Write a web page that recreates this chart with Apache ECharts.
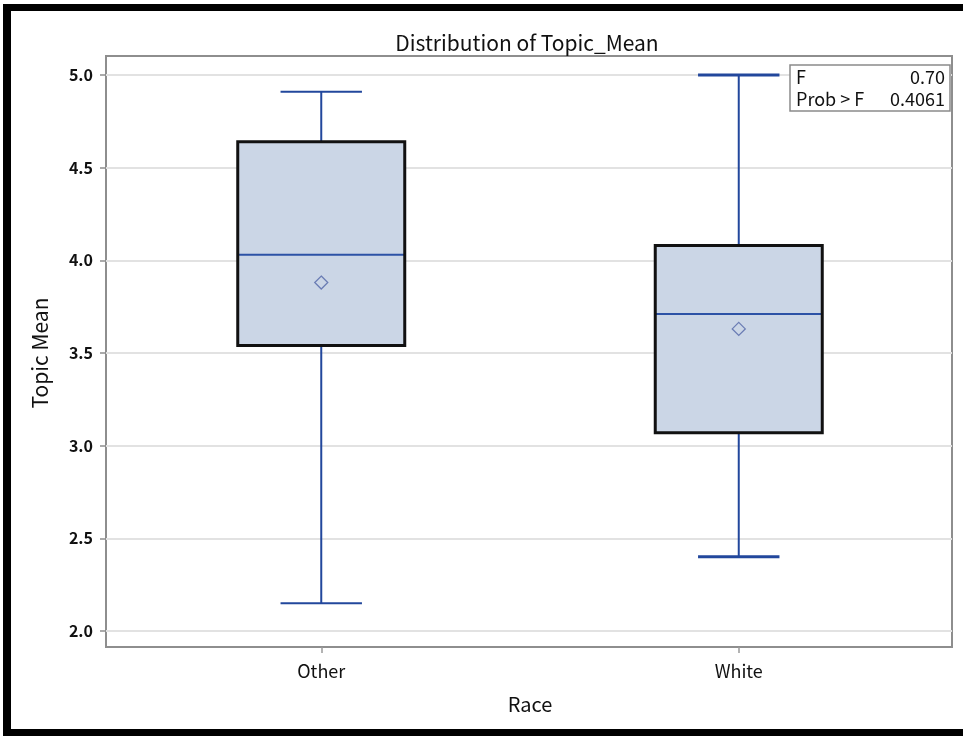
<!DOCTYPE html>
<html>
<head>
<meta charset="utf-8">
<script src="https://cdn.jsdelivr.net/npm/echarts@6/dist/echarts.min.js"></script>
<style>
  html, body { margin: 0; padding: 0; background: #ffffff; }
  #chart { width: 963px; height: 736px; }
</style>
</head>
<body>
<div id="chart"></div>
<script>
// Box plot summary per race group
const categories   = ['Other', 'White'];
const whiskerLow   = [2.15, 2.40];
const quartile1    = [3.54, 3.07];
const medians      = [4.03, 3.71];
const quartile3    = [4.64, 4.08];
const whiskerHigh  = [4.91, 5.00];
const means        = [3.88, 3.63];

// ANOVA statistics shown in the inset
const fValue = '0.70';
const probValue = '0.4061';

// y axis ticks
const yMin = 2.0;
const yMax = 5.0;
const yStep = 0.5;

const FONT = '"Noto Sans CJK JP", "Liberation Sans", sans-serif';
const WHISKER = '#22479c';
const MEDIAN = '#2c52a6';
const capWidths = [2, 3];

const boxData = categories.map((c, i) => [
  i, whiskerLow[i], quartile1[i], medians[i], quartile3[i], whiskerHigh[i], means[i]
]);

function renderBox(params, api) {
  const i = api.value(0);
  const band = api.size([1, 0])[0];
  const boxW = band * 0.40;
  const capW = band * 0.195;
  const pLow = api.coord([i, api.value(1)]);
  const pQ1 = api.coord([i, api.value(2)]);
  const pMed = api.coord([i, api.value(3)]);
  const pQ3 = api.coord([i, api.value(4)]);
  const pHigh = api.coord([i, api.value(5)]);
  const pMean = api.coord([i, api.value(6)]);
  const cx = pMed[0];
  const x0 = cx - boxW / 2;
  const x1 = cx + boxW / 2;
  const whiskerStyle = { stroke: WHISKER, lineWidth: 2 };
  const capStyle = { stroke: WHISKER, lineWidth: capWidths[params.dataIndex] };
  const d = 6.5;
  return {
    type: 'group',
    children: [
      { type: 'line', shape: { x1: cx, y1: pQ3[1], x2: cx, y2: pHigh[1] }, style: whiskerStyle },
      { type: 'line', shape: { x1: cx, y1: pQ1[1], x2: cx, y2: pLow[1] }, style: whiskerStyle },
      { type: 'line', shape: { x1: cx - capW / 2, y1: pHigh[1], x2: cx + capW / 2, y2: pHigh[1] }, style: capStyle },
      { type: 'line', shape: { x1: cx - capW / 2, y1: pLow[1], x2: cx + capW / 2, y2: pLow[1] }, style: capStyle },
      { type: 'rect', shape: { x: x0, y: pQ3[1], width: boxW, height: pQ1[1] - pQ3[1] }, style: { fill: '#cbd6e6', stroke: null } },
      { type: 'line', shape: { x1: x0, y1: pMed[1], x2: x1, y2: pMed[1] }, style: { stroke: MEDIAN, lineWidth: 2 } },
      { type: 'polygon', shape: { points: [[pMean[0], pMean[1] - d], [pMean[0] + d, pMean[1]], [pMean[0], pMean[1] + d], [pMean[0] - d, pMean[1]]] },
        style: { fill: null, stroke: '#6a7cb4', lineWidth: 1.3 } },
      { type: 'rect', shape: { x: x0, y: pQ3[1], width: boxW, height: pQ1[1] - pQ3[1] }, style: { fill: null, stroke: '#111111', lineWidth: 3 } }
    ]
  };
}

const chart = echarts.init(document.getElementById('chart'), null, { renderer: 'canvas' });

const INSET_FONT = '18px ' + FONT;

chart.setOption({
  backgroundColor: '#ffffff',
  animation: false,
  title: {
    text: 'Distribution of Topic_Mean',
    left: 522,
    top: 28,
    textAlign: 'center',
    textStyle: { fontFamily: FONT, fontSize: 21, fontWeight: 'normal', color: '#111111' }
  },
  grid: [
    // outer frame of the plot area
    { left: 106, right: 11, top: 56, bottom: 89, show: true, borderColor: '#8e8e8e', borderWidth: 2, backgroundColor: 'transparent' },
    // value grid for the y axis and its grid lines
    { left: 106, right: 11, top: 75, bottom: 105 },
    // category grid holding the boxes
    { left: 112.5, right: 15.5, top: 75, bottom: 105 }
  ],
  xAxis: [
    { gridIndex: 0, type: 'value', show: false },
    { gridIndex: 1, type: 'value', show: false },
    {
      gridIndex: 2,
      type: 'category',
      data: categories,
      boundaryGap: true,
      offset: 16,
      axisLine: { show: false },
      axisTick: { show: true, alignWithLabel: true, length: 6, lineStyle: { color: '#9a9a9a', width: 1.5 } },
      axisLabel: { margin: 15, fontFamily: FONT, fontSize: 18, color: '#111111' },
      name: 'Race',
      nameLocation: 'middle',
      nameGap: 47,
      nameTextStyle: { fontFamily: FONT, fontSize: 20, color: '#111111' }
    }
  ],
  yAxis: [
    { gridIndex: 0, type: 'value', show: false },
    {
      gridIndex: 1,
      type: 'value',
      min: yMin,
      max: yMax,
      interval: yStep,
      axisLine: { show: false },
      axisTick: { show: true, length: 6, lineStyle: { color: '#8e8e8e', width: 1.5 } },
      axisLabel: { margin: 13, fontFamily: FONT, fontSize: 16, fontWeight: 'bold', color: '#111111',
        formatter: v => v.toFixed(1) },
      splitLine: { show: true, lineStyle: { color: '#e2e2e2', width: 2 } },
      name: 'Topic Mean',
      nameLocation: 'middle',
      nameRotate: 90,
      nameGap: 55,
      nameTextStyle: { fontFamily: FONT, fontSize: 21, color: '#111111' }
    },
    { gridIndex: 2, type: 'value', min: yMin, max: yMax, show: false }
  ],
  series: [
    {
      type: 'custom',
      xAxisIndex: 2,
      yAxisIndex: 2,
      data: boxData,
      renderItem: renderBox,
      z: 5
    }
  ],
  graphic: [
    // picture border
    { type: 'rect', z: 100, shape: { x: 3, y: 4, width: 960, height: 7 }, style: { fill: '#000000' } },
    { type: 'rect', z: 100, shape: { x: 3, y: 4, width: 8, height: 732 }, style: { fill: '#000000' } },
    { type: 'rect', z: 100, shape: { x: 3, y: 729, width: 960, height: 7 }, style: { fill: '#000000' } },
    // statistics inset
    { type: 'rect', z: 100, shape: { x: 790, y: 65, width: 160, height: 46 }, style: { fill: '#ffffff', stroke: '#8a8a8a', lineWidth: 1.5 } },
    { type: 'text', z: 101, style: { x: 796, y: 77, text: 'F', font: INSET_FONT, fill: '#111111', verticalAlign: 'middle' } },
    { type: 'text', z: 101, style: { x: 945, y: 77, text: fValue, font: INSET_FONT, fill: '#111111', align: 'right', verticalAlign: 'middle' } },
    { type: 'text', z: 101, style: { x: 796, y: 99, text: 'Prob > F', font: INSET_FONT, fill: '#111111', verticalAlign: 'middle' } },
    { type: 'text', z: 101, style: { x: 945, y: 99, text: probValue, font: INSET_FONT, fill: '#111111', align: 'right', verticalAlign: 'middle' } }
  ]
});
</script>
</body>
</html>
